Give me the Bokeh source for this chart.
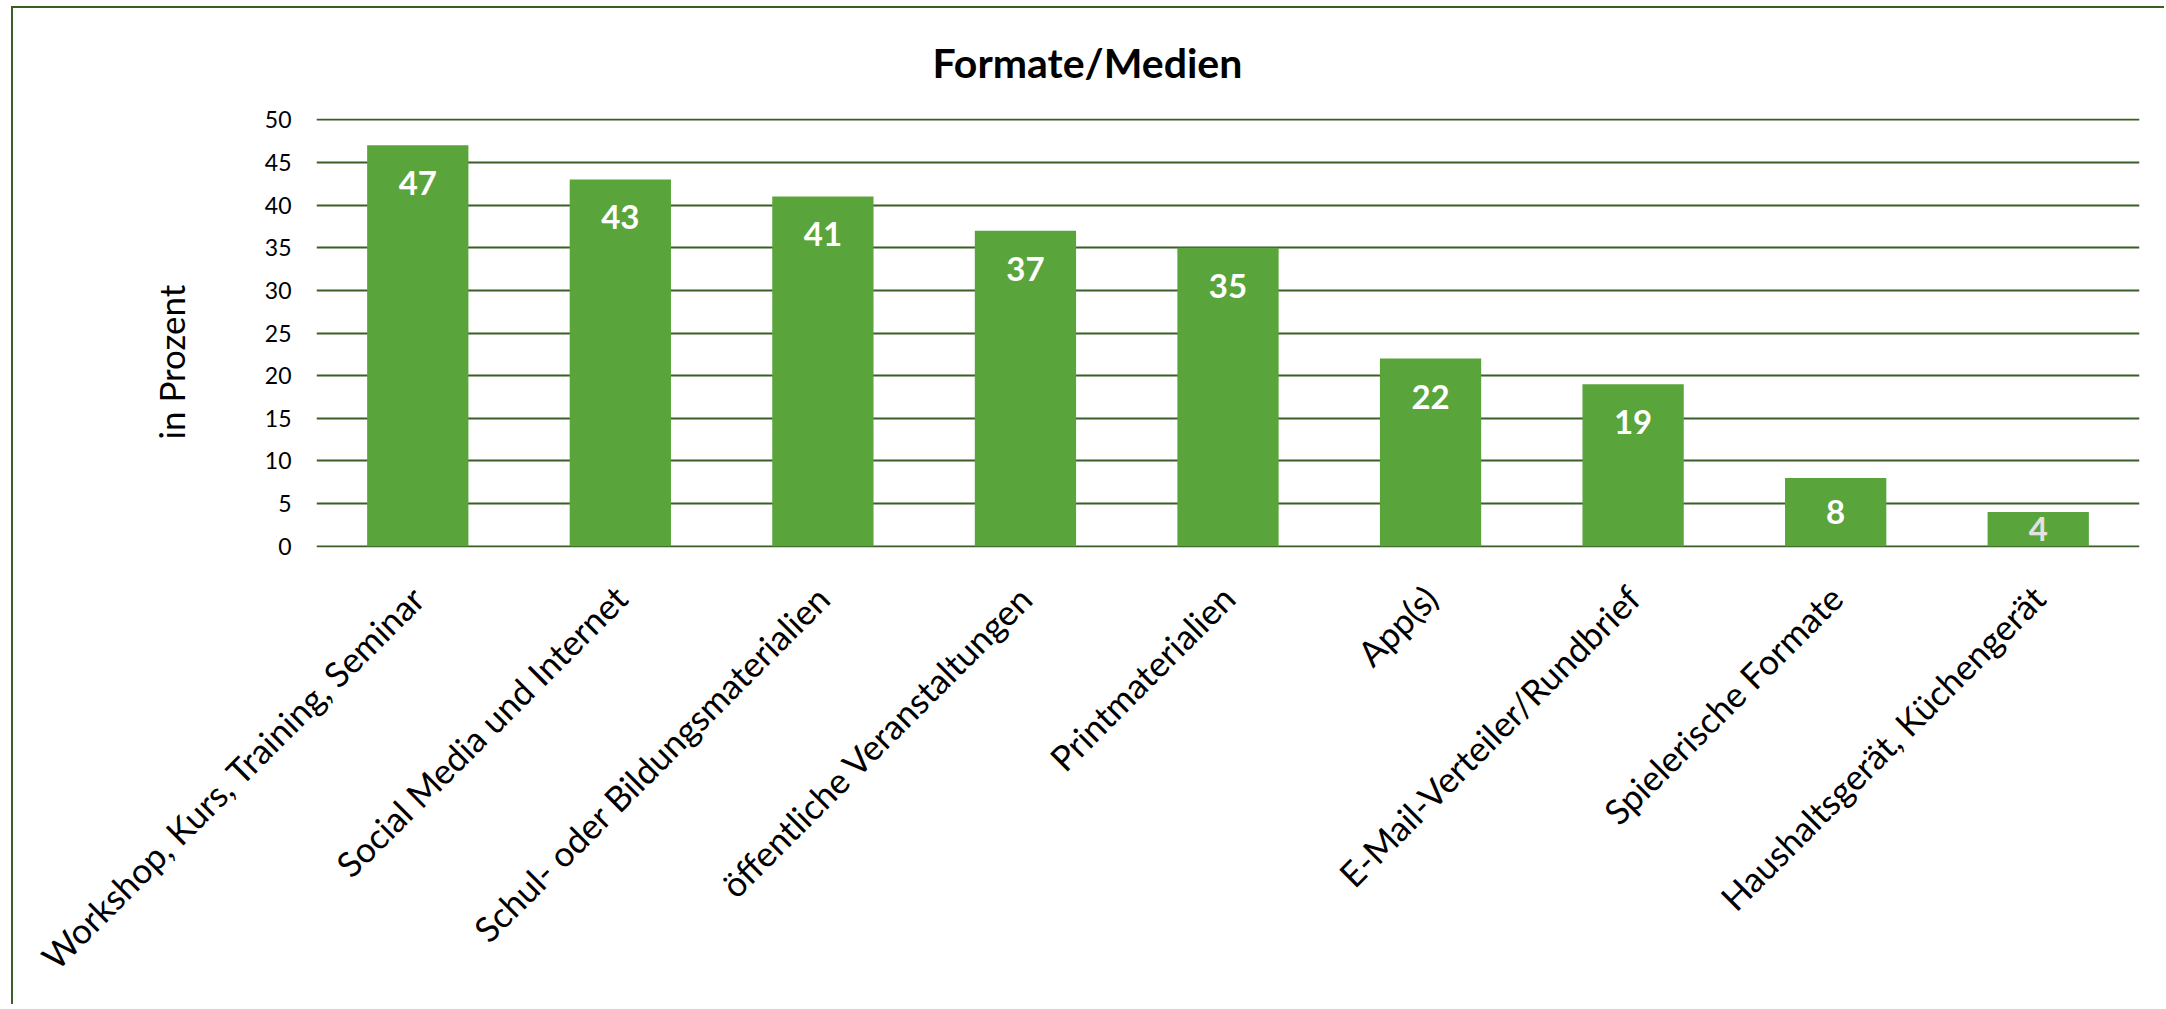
import math
from bokeh.plotting import figure
from bokeh.models import Range1d, FixedTicker, ColumnDataSource, Title
from bokeh.core.properties import value
from bokeh.embed import file_html
from bokeh.resources import INLINE

# ---- data ----
title_text = "Formate/Medien"
y_axis_title = "in Prozent"
categories = [
    "Workshop, Kurs, Training, Seminar",
    "Social Media und Internet",
    "Schul- oder Bildungsmaterialien",
    "öffentliche Veranstaltungen",
    "Printmaterialien",
    "App(s)",
    "E-Mail-Verteiler/Rundbrief",
    "Spielerische Formate",
    "Haushaltsgerät, Küchengerät",
]
values = [47, 43, 41, 37, 35, 22, 19, 8, 4]
y_ticks = [0, 5, 10, 15, 20, 25, 30, 35, 40, 45, 50]
label_colors = ["#FFFFFF"] * 8 + ["#E2E2E2"]

# ---- styling ----
FONT = "Lato"
BAR = "#5AA53B"
GRID = "#3A5F26"

OFF_X, OFF_Y = 13, 8          # outer chart border offset (border drawn by CSS)
SAFETY = 3                    # keep page a little shorter than the window
W, H = 2166 - OFF_X, 1009 - OFF_Y - SAFETY
FRAME_L, FRAME_T, FRAME_B, FRAME_R = 316, 117, 547, 2139   # in window pixels
LEFT = FRAME_L - OFF_X
TOP = FRAME_T - OFF_Y
BOTTOM = 1009 - FRAME_B - SAFETY
RIGHT = 2166 - FRAME_R

p = figure(
    width=W, height=H,
    x_range=categories,
    y_range=Range1d(-0.15, 50.15),
    output_backend="svg",
    toolbar_location=None,
    min_border_left=LEFT, min_border_right=RIGHT,
    min_border_top=TOP, min_border_bottom=BOTTOM,
    background_fill_color="white", border_fill_color="white",
)
p.styles = {
    "border-left": f"2px solid {GRID}",
    "border-top": f"2px solid {GRID}",
    "margin-left": f"{OFF_X - 2}px",
    "margin-top": f"{OFF_Y - 2}px",
}
p.outline_line_color = None
p.x_range.range_padding = 0

# bars
src = ColumnDataSource(dict(
    cat=categories,
    val=values,
    lab=[str(v) for v in values],
    ly=[max(v - 4.45, v / 2.0) for v in values],
    lc=label_colors,
))
p.vbar(x="cat", top="val", bottom=0, width=0.5, source=src,
       fill_color=BAR, line_color=None)

# value labels
p.text(x="cat", y="ly", text="lab", source=src,
       text_font=value(FONT), text_font_style="bold", text_font_size="33px",
       text_color="lc", text_align="center", text_baseline="middle")

# grid
p.xgrid.grid_line_color = None
p.ygrid.grid_line_color = GRID
p.ygrid.grid_line_width = 2
p.yaxis.ticker = FixedTicker(ticks=y_ticks)

# y axis
p.yaxis.axis_line_color = None
p.yaxis.major_tick_line_color = None
p.yaxis.minor_tick_line_color = None
p.yaxis.major_tick_out = 0
p.yaxis.major_tick_in = 0
p.yaxis.major_label_standoff = 25
p.yaxis.major_label_text_font = FONT
p.yaxis.major_label_text_font_size = "23px"
p.yaxis.major_label_text_color = "#000000"

# x axis
p.xaxis.axis_line_color = None
p.xaxis.major_tick_line_color = None
p.xaxis.minor_tick_line_color = None
p.xaxis.major_tick_out = 0
p.xaxis.major_tick_in = 0
p.xaxis.major_label_orientation = math.pi / 4
p.xaxis.major_label_standoff = 44
p.xaxis.major_label_text_font = FONT
p.xaxis.major_label_text_font_size = "35px"
p.xaxis.major_label_text_color = "#000000"

# title (left-aligned with offset so its centre sits where the reference has it)
p.title.text = title_text
p.title.align = "left"
p.title.vertical_align = "top"
p.title.offset = 616
p.title.standoff = 59
p.title.text_font = FONT
p.title.text_font_style = "bold"
p.title.text_font_size = "41px"
p.title.text_color = "#000000"

# y axis title as a left-side title
yt = Title(text=y_axis_title, align="left", offset=108, standoff=140,
           text_font=FONT, text_font_style="normal", text_font_size="35px",
           text_color="#000000")
p.add_layout(yt, "left")

open("out.html", "w").write(file_html(p, INLINE))
